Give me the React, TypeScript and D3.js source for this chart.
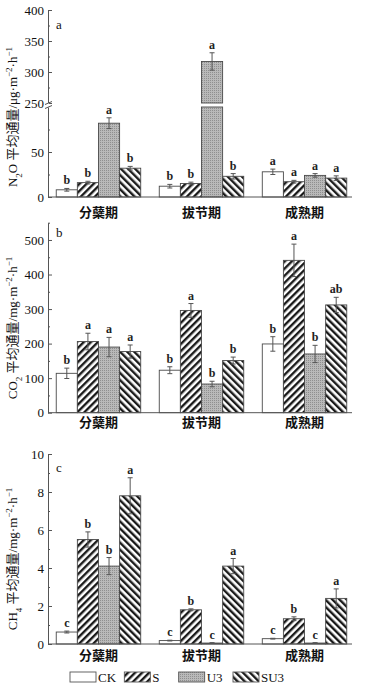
import React, { useEffect, useRef } from 'react';
import * as d3 from 'd3';

const W = 368;
const H = 688;
const AX_L = 48;
const AX_R = 352;

const stages = ['分蘖期', '拔节期', '成熟期'];
const treatments = ['CK', 'S', 'U3', 'SU3'];

// rows = stage, cols = treatment (CK, S, U3, SU3)
const n2oMean = [[8, 16, 82, 32], [12, 15, 317, 23], [28, 17, 24, 21]];
const n2oErr = [[1.5, 1.5, 6, 2], [2, 1.5, 14, 3], [3, 1.5, 2, 2.5]];
const n2oSig = [['b', 'b', 'a', 'b'], ['b', 'b', 'a', 'b'], ['a', 'a', 'a', 'a']];

const co2Mean = [[114, 206, 190, 177], [123, 296, 83, 151], [199, 441, 170, 312]];
const co2Err = [[15, 24, 28, 19], [10, 20, 8, 10], [21, 47, 25, 22]];
const co2Sig = [['b', 'a', 'a', 'a'], ['b', 'a', 'b', 'b'], ['b', 'a', 'b', 'ab']];

const ch4Mean = [[0.63, 5.5, 4.1, 7.8], [0.18, 1.8, 0.05, 4.1], [0.28, 1.33, 0.05, 2.4]];
const ch4Err = [[0.05, 0.4, 0.45, 0.95], [0.02, 0.05, 0.02, 0.4], [0.02, 0.1, 0.02, 0.5]];
const ch4Sig = [['c', 'b', 'b', 'a'], ['c', 'b', 'c', 'a'], ['c', 'b', 'c', 'a']];

const fills = ['#ffffff', 'url(#hatchS)', 'url(#dotU3)', 'url(#hatchSU3)'];
const SERIF = '"Liberation Serif", "Times New Roman", "Noto Sans CJK SC", serif';
const CJK = '"Noto Sans CJK SC", sans-serif';
const AXIS = '#555';

const panels = [
  {
    tag: 'a',
    mean: n2oMean, err: n2oErr, sig: n2oSig,
    // broken axis: lower and upper segment
    segs: [
      { d: [0, 100], r: [197, 107], ticks: [0, 50], minor: [25, 75] },
      { d: [250, 400], r: [103, 10], ticks: [250, 300, 350, 400], minor: [275, 325, 375] },
    ],
    title: ['N', '2', 'O 平均通量/μg·m', '−2', '·h', '−1'],
    titleY: 117, labelY: 217, tagY: 29,
  },
  {
    tag: 'b',
    mean: co2Mean, err: co2Err, sig: co2Sig,
    segs: [
      { d: [0, 550], r: [412.7, 222.7], ticks: [0, 100, 200, 300, 400, 500], minor: [50, 150, 250, 350, 450, 550] },
    ],
    title: ['CO', '2', ' 平均通量/mg·m', '−2', '·h', '−1'],
    titleY: 328, labelY: 427, tagY: 237,
  },
  {
    tag: 'c',
    mean: ch4Mean, err: ch4Err, sig: ch4Sig,
    segs: [
      { d: [0, 10], r: [644, 454], ticks: [0, 2, 4, 6, 8, 10], minor: [1, 3, 5, 7, 9] },
    ],
    title: ['CH', '4', ' 平均通量/mg·m', '−2', '·h', '−1'],
    titleY: 559, labelY: 660, tagY: 472,
  },
];

export default function App() {
  const ref = useRef<SVGSVGElement>(null);

  useEffect(() => {
    const svg = d3.select(ref.current);
    svg.selectAll('*').remove();

    const defs = svg.append('defs');
    const hatch = (id: string, angle: number) => {
      const p = defs.append('pattern').attr('id', id).attr('patternUnits', 'userSpaceOnUse')
        .attr('width', 5).attr('height', 5).attr('patternTransform', `rotate(${angle})`);
      p.append('rect').attr('width', 5).attr('height', 5).attr('fill', '#fff');
      p.append('line').attr('x1', 1.2).attr('y1', -1).attr('x2', 1.2).attr('y2', 6)
        .attr('stroke', '#1a1a1a').attr('stroke-width', 2.4);
    };
    hatch('hatchS', 45);
    hatch('hatchSU3', -45);
    const dot = defs.append('pattern').attr('id', 'dotU3').attr('patternUnits', 'userSpaceOnUse')
      .attr('width', 2).attr('height', 2);
    dot.append('rect').attr('width', 2).attr('height', 2).attr('fill', '#b9b9b9');
    dot.append('rect').attr('width', 1).attr('height', 1).attr('fill', '#8f8f8f');

    const x0 = d3.scaleBand().domain(stages).range([AX_L, 355]).paddingInner(0.18).paddingOuter(0.08);
    const x1 = d3.scaleBand().domain(treatments).range([0, x0.bandwidth()]);

    panels.forEach((p) => {
      const g = svg.append('g');
      const scales = p.segs.map((s) => d3.scaleLinear().domain(s.d).range(s.r));
      const segOf = (v: number) => {
        const i = p.segs.findIndex((s) => v <= s.d[1]);
        return i < 0 ? p.segs.length - 1 : i;
      };
      const yv = (v: number) => {
        const i = segOf(v);
        return scales[i](Math.max(v, p.segs[i].d[0]));
      };

      // bars
      stages.forEach((st, si) => {
        treatments.forEach((tr, ti) => {
          const v = p.mean[si][ti];
          const bx = (x0(st) || 0) + (x1(tr) || 0);
          p.segs.forEach((s, k) => {
            if (v <= s.d[0] && k > 0) return;
            const top = scales[k](Math.min(v, s.d[1]));
            const bot = scales[k](s.d[0]);
            g.append('rect')
              .attr('x', bx).attr('y', top)
              .attr('width', x1.bandwidth()).attr('height', Math.max(0, bot - top))
              .attr('fill', fills[ti]).attr('stroke', '#4a4a4a').attr('stroke-width', 0.9);
          });
          // error bar
          const e = p.err[si][ti];
          const cx = bx + x1.bandwidth() / 2;
          const yHi = yv(v + e);
          const yLo = yv(Math.max(0, v - e));
          g.append('line').attr('x1', cx).attr('x2', cx).attr('y1', yHi).attr('y2', yLo)
            .attr('stroke', '#555').attr('stroke-width', 1);
          [yHi, yLo].forEach((yy) => {
            g.append('line').attr('x1', cx - 2.5).attr('x2', cx + 2.5).attr('y1', yy).attr('y2', yy)
              .attr('stroke', '#555').attr('stroke-width', 1);
          });
          g.append('text').attr('x', cx).attr('y', yHi - 4)
            .attr('text-anchor', 'middle').attr('font-family', SERIF).attr('font-weight', 'bold')
            .attr('font-size', 12).attr('fill', '#222').text(p.sig[si][ti]);
        });
      });

      // y axis per segment
      p.segs.forEach((s, k) => {
        const ax = g.append('g').attr('transform', `translate(${AX_L},0)`)
          .call(d3.axisLeft(scales[k]).tickValues(s.ticks).tickSize(-4).tickSizeOuter(0)
            .tickPadding(4).tickFormat(d3.format('d')));
        ax.select('.domain').attr('stroke', AXIS);
        ax.selectAll('.tick line').attr('stroke', AXIS);
        ax.selectAll('text').attr('font-family', SERIF).attr('font-size', 13).attr('fill', '#111');
        const mn = g.append('g').attr('transform', `translate(${AX_L},0)`)
          .call(d3.axisLeft(scales[k]).tickValues(s.minor).tickSize(-2).tickSizeOuter(0)
            .tickFormat(() => ''));
        mn.select('.domain').remove();
        mn.selectAll('.tick line').attr('stroke', AXIS);
      });

      // axis break marks
      if (p.segs.length > 1) {
        const yb = (p.segs[0].r[1] + p.segs[1].r[0]) / 2;
        g.append('rect').attr('x', AX_L - 1).attr('y', yb - 2).attr('width', 2).attr('height', 4).attr('fill', '#fff');
        [-2, 2].forEach((o) => {
          g.append('line').attr('x1', AX_L - 3).attr('x2', AX_L + 4)
            .attr('y1', yb + o + 1.5).attr('y2', yb + o - 1.5)
            .attr('stroke', AXIS).attr('stroke-width', 1);
        });
      }

      // x axis line
      const yBase = p.segs[0].r[0];
      g.append('line').attr('x1', AX_L).attr('x2', AX_R).attr('y1', yBase).attr('y2', yBase)
        .attr('stroke', AXIS).attr('stroke-width', 1);

      // stage labels
      stages.forEach((st) => {
        g.append('text').attr('x', (x0(st) || 0) + x0.bandwidth() / 2).attr('y', p.labelY)
          .attr('text-anchor', 'middle').attr('font-family', CJK).attr('font-weight', 'bold')
          .attr('font-size', 13).attr('fill', '#111').text(st);
      });

      // panel tag
      g.append('text').attr('x', 56).attr('y', p.tagY).attr('font-family', SERIF)
        .attr('font-size', 13).attr('fill', '#111').text(p.tag);

      // y title
      const t = g.append('text').attr('transform', `translate(17,${p.titleY}) rotate(-90)`)
        .attr('text-anchor', 'middle').attr('font-family', SERIF).attr('font-size', 13).attr('fill', '#111');
      p.title.forEach((part, i) => {
        const ts = t.append('tspan').text(part);
        if (i === 1) ts.attr('font-size', 9).attr('baseline-shift', 'sub');
        if (i === 3 || i === 5) ts.attr('font-size', 9).attr('baseline-shift', 'super');
      });
    });

    // legend
    const lx = d3.scalePoint().domain(treatments).range([70, 233]);
    treatments.forEach((tr, i) => {
      const x = lx(tr) || 0;
      svg.append('rect').attr('x', x).attr('y', 672).attr('width', 26).attr('height', 10)
        .attr('fill', fills[i]).attr('stroke', '#555').attr('stroke-width', 0.9);
      svg.append('text').attr('x', x + 28).attr('y', 682).attr('font-family', SERIF)
        .attr('font-size', 13).attr('fill', '#111').text(tr);
    });
  }, []);

  return (
    <svg ref={ref} width={W} height={H}
      style={{ position: 'absolute', left: 0, top: 0, background: '#fff' }} />
  );
}
